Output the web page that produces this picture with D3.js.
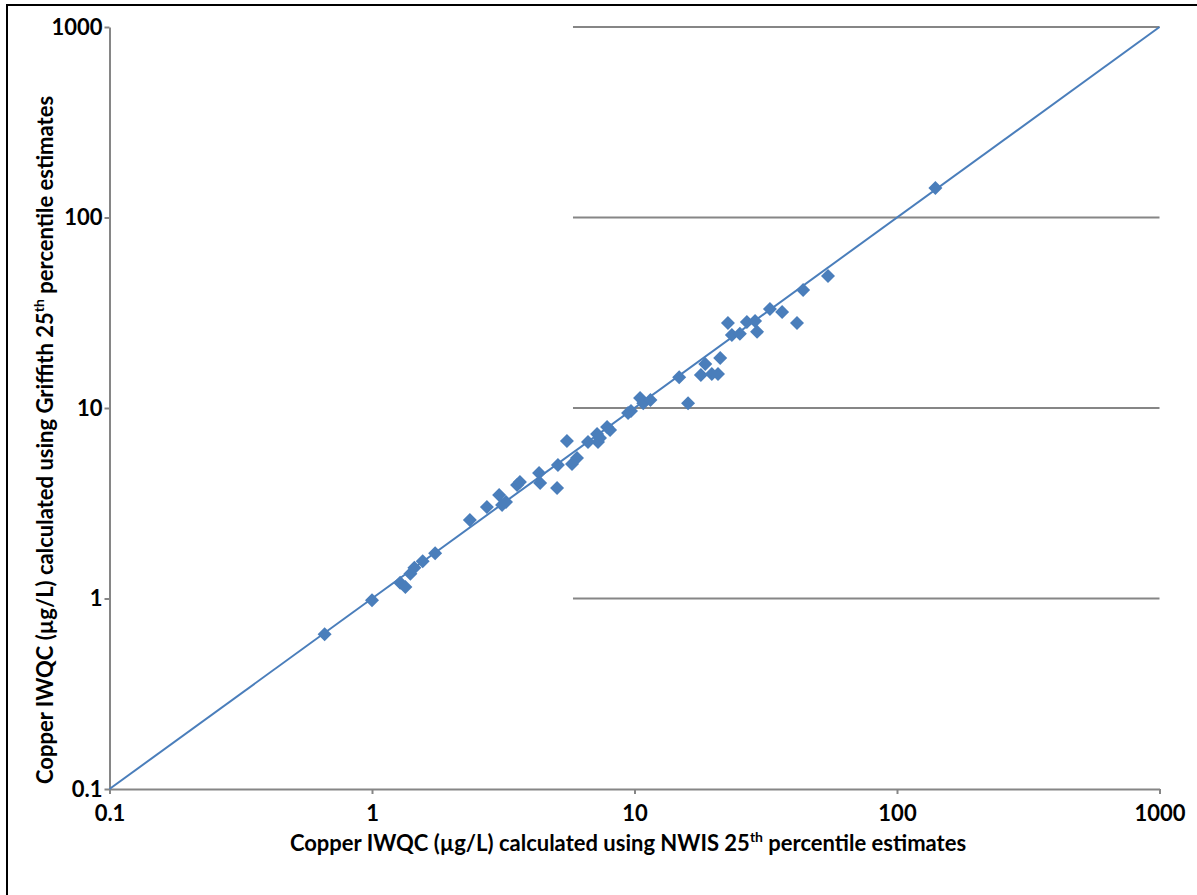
<!DOCTYPE html>
<html>
<head>
<meta charset="utf-8">
<script src="https://cdn.jsdelivr.net/npm/d3@7"></script>
<style>
  html, body { margin: 0; padding: 0; background: #fff; }
  svg { display: block; }
  text { font-family: Lato, "Open Sans", sans-serif; font-weight: 700; fill: #000; }
</style>
</head>
<body>
<svg id="chart" width="1197" height="895"></svg>
<script>
// Copper IWQC (µg/L): NWIS-based estimate vs Griffith-based estimate
const nwisValues = [
  0.66, 1.0, 1.28, 1.34, 1.40, 1.45, 1.56, 1.74, 2.36, 2.74,
  3.05, 3.13, 3.24, 3.57, 3.66, 4.33, 4.37, 5.07, 5.11, 5.53,
  5.78, 6.04, 6.65, 7.20, 7.26, 7.39, 7.86, 8.07, 9.70, 9.45,
  10.5, 10.8, 11.5, 14.8, 16.0, 17.9, 18.6, 19.7, 20.8, 21.2,
  22.7, 23.5, 25.2, 26.8, 28.8, 29.3, 32.8, 36.5, 41.6, 43.9,
  54.6, 140
];
const griffithValues = [
  0.65, 0.98, 1.21, 1.15, 1.35, 1.45, 1.57, 1.73, 2.58, 3.02,
  3.49, 3.10, 3.21, 3.94, 4.09, 4.56, 4.04, 3.80, 5.02, 6.71,
  5.08, 5.47, 6.63, 7.30, 6.63, 6.96, 7.95, 7.66, 9.65, 9.41,
  11.3, 10.6, 11.0, 14.5, 10.6, 14.9, 17.0, 15.1, 15.1, 18.3,
  27.9, 24.2, 24.5, 28.3, 28.6, 25.1, 33.1, 31.9, 27.9, 41.6,
  49.3, 143
];
const tickValues = [0.1, 1, 10, 100, 1000];
const tickLabels = ["0.1", "1", "10", "100", "1000"];
const oneToOne = [0.1, 1000];          // 1:1 reference line endpoints
const gridValues = [1, 10, 100, 1000]; // horizontal gridlines
const gridFrom = 5.83;                 // gridlines run from this x value to the axis end

const svg = d3.select("#chart");
const blue = "#4a7ebb";
const grey = "#868686";
const fontSize = "22px";

// outer frame
svg.append("rect")
  .attr("x", 7).attr("y", 5)
  .attr("width", 1250).attr("height", 950)
  .attr("fill", "none").attr("stroke", "#000").attr("stroke-width", 2);

const x = d3.scaleLog().domain([0.1, 1000]).range([109.5, 1159.5]);
const y = d3.scaleLog().domain([0.1, 1000]).range([789, 27]);

// gridlines
svg.append("g").selectAll("line").data(gridValues).join("line")
  .attr("x1", x(gridFrom)).attr("x2", x(1000))
  .attr("y1", d => y(d)).attr("y2", d => y(d))
  .attr("stroke", grey).attr("stroke-width", 2);

// axes
const fmt = d => tickLabels[tickValues.indexOf(d)];
const xAxis = svg.append("g")
  .attr("transform", `translate(0,${y(0.1)})`)
  .call(d3.axisBottom(x).tickValues(tickValues).tickFormat(fmt).tickSize(5).tickSizeOuter(0).tickPadding(11));
const yAxis = svg.append("g")
  .attr("transform", `translate(${x(0.1)},0)`)
  .call(d3.axisLeft(y).tickValues(tickValues).tickFormat(fmt).tickSize(5).tickSizeOuter(0).tickPadding(2));
[xAxis, yAxis].forEach(g => {
  g.selectAll("path, line").attr("stroke", grey).attr("stroke-width", 2);
  g.selectAll("text").style("font-size", fontSize).attr("fill", "#000");
});
xAxis.selectAll("text").attr("dy", "0.71em");

// 1:1 line
svg.append("line")
  .attr("x1", x(oneToOne[0])).attr("y1", y(oneToOne[0]))
  .attr("x2", x(oneToOne[1])).attr("y2", y(oneToOne[1]))
  .attr("stroke", blue).attr("stroke-width", 2);

// diamond markers
const pts = nwisValues.map((v, i) => [v, griffithValues[i]]);
const diamond = d3.symbol().type(d3.symbolSquare).size(98);
svg.append("g").selectAll("path").data(pts).join("path")
  .attr("d", diamond)
  .attr("transform", d => `translate(${x(d[0])},${y(d[1])}) rotate(45)`)
  .attr("fill", blue);

// axis titles
const xt = svg.append("text")
  .attr("x", 628).attr("y", 851)
  .attr("text-anchor", "middle").style("font-size", fontSize);
xt.append("tspan").text("Copper IWQC (µg/L) calculated using NWIS 25");
xt.append("tspan").text("th").attr("dy", -9).style("font-size", "14px");
xt.append("tspan").text(" percentile estimates").attr("dy", 9);

const yt = svg.append("text")
  .attr("transform", "translate(53,440) rotate(-90)")
  .attr("text-anchor", "middle").style("font-size", fontSize);
yt.append("tspan").text("Copper IWQC (µg/L) calculated using Griffith 25");
yt.append("tspan").text("th").attr("dy", -9).style("font-size", "14px");
yt.append("tspan").text(" percentile estimates").attr("dy", 9);
</script>
</body>
</html>
